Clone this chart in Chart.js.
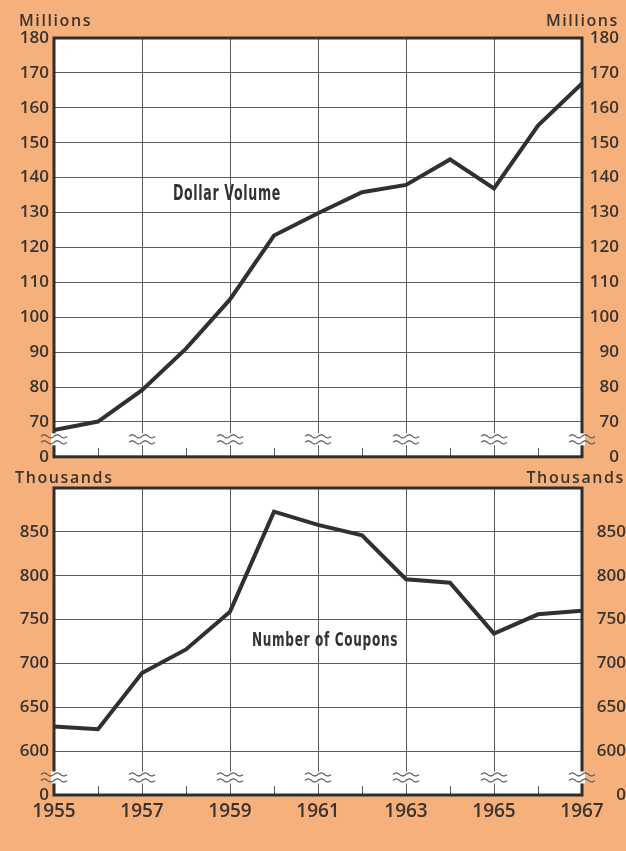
<!DOCTYPE html>
<html>
<head>
<meta charset="utf-8">
<script src="https://cdn.jsdelivr.net/npm/chart.js@4/dist/chart.umd.min.js"></script>
<style>
  html, body { margin: 0; padding: 0; background: #F5B07B; }
  body { width: 626px; height: 851px; position: relative; overflow: hidden; }
  canvas { position: absolute; left: 0; }
  #c1 { top: 0; }
  #c2 { top: 462px; }
</style>
</head>
<body>
<canvas id="c1" width="626" height="472"></canvas>
<canvas id="c2" width="626" height="389"></canvas>
<script>
// ---------- DATA ----------
const years = [1955, 1956, 1957, 1958, 1959, 1960, 1961, 1962, 1963, 1964, 1965, 1966, 1967];
const yearLabels = ['1955', '', '1957', '', '1959', '', '1961', '', '1963', '', '1965', '', '1967'];

// Dollar volume, millions of dollars
const dollarVolume = [67.7, 70.1, 79.1, 91.0, 105.1, 123.4, 129.8, 135.8, 137.9, 145.2, 136.9, 154.9, 167.0];
// Number of coupons, thousands
const coupons = [628, 625, 689, 716, 759, 873, 858, 846, 796, 792, 734, 756, 760];

// Broken axes: lowest tick stands for zero
const topTickValues = [60, 70, 80, 90, 100, 110, 120, 130, 140, 150, 160, 170, 180];
const topTickLabels = ['0', '70', '80', '90', '100', '110', '120', '130', '140', '150', '160', '170', '180'];
const bottomTickValues = [550, 600, 650, 700, 750, 800, 850];
const bottomTickLabels = ['0', '600', '650', '700', '750', '800', '850'];

// ---------- STYLE ----------
const INK = '#3a3430';
const GRID = '#5c5c5c';
const FRAME = '#2e2e2e';
const LINE = '#303030';
const TICK_FONT = 'Open Sans';

const panelPlugin = {
  id: 'panel',
  beforeDraw(chart) {
    const { ctx, chartArea: a } = chart;
    ctx.save();
    ctx.fillStyle = '#ffffff';
    ctx.fillRect(a.left, a.top, a.right - a.left, a.bottom - a.top);
    ctx.restore();
  },
  beforeDatasetsDraw(chart) {
    const { ctx, chartArea: a, scales } = chart;
    ctx.save();
    // even-year inside ticks
    ctx.strokeStyle = GRID;
    ctx.lineWidth = 1;
    years.forEach(y => {
      if (y % 2 === 0) {
        const x = Math.round(scales.x.getPixelForValue(y)) + 0.5;
        ctx.beginPath();
        ctx.moveTo(x, a.bottom);
        ctx.lineTo(x, a.bottom - 9);
        ctx.stroke();
      }
    });
    // frame
    ctx.strokeStyle = FRAME;
    ctx.lineWidth = 3;
    ctx.strokeRect(a.left, a.top, a.right - a.left, a.bottom - a.top);
    ctx.restore();
  },
  afterDatasetsDraw(chart, args, opts) {
    const { ctx, chartArea: a, scales } = chart;
    ctx.save();
    // axis break squiggles
    const cy = scales.y.getPixelForValue(opts.breakValue);
    years.forEach(y => {
      if (y % 2 === 1) {
        const cx = scales.x.getPixelForValue(y);
        ctx.fillStyle = '#ffffff';
        ctx.fillRect(cx - 3, cy - 6, 6, 12);
        ctx.strokeStyle = '#5a5a5a';
        ctx.lineWidth = 1.2;
        [-3, 3].forEach(off => {
          ctx.beginPath();
          for (let t = -13; t <= 13; t += 0.5) {
            const yy = cy + off - 1.5 * Math.sin((t + 13) / 13 * 2 * Math.PI);
            if (t === -13) ctx.moveTo(cx + t, yy); else ctx.lineTo(cx + t, yy);
          }
          ctx.stroke();
        });
      }
    });
    // series annotation
    ctx.fillStyle = '#333333';
    ctx.font = 'bold ' + opts.labelSize + 'px "Liberation Sans Narrow", "DejaVu Sans Condensed", "Liberation Sans", sans-serif';
    ctx.letterSpacing = '1px';
    ctx.textAlign = 'center';
    ctx.textBaseline = 'middle';
    ctx.fillText(opts.label, scales.x.getPixelForValue(opts.labelX), scales.y.getPixelForValue(opts.labelY), opts.labelWidth);
    // unit labels
    ctx.fillStyle = INK;
    ctx.font = '600 16px "' + TICK_FONT + '"';
    ctx.letterSpacing = opts.unitSpacing + 'px';
    ctx.textBaseline = 'alphabetic';
    ctx.textAlign = 'left';
    ctx.fillText(opts.units, opts.unitLeftX, opts.unitY);
    ctx.textAlign = 'right';
    ctx.fillText(opts.units, opts.unitRightX, opts.unitY);
    ctx.restore();
  }
};

function makeChart(id, values, tickValues, tickLabels, cfg) {
  const tickMap = {};
  tickValues.forEach((v, i) => { tickMap[v] = tickLabels[i]; });
  const yAxis = (pos) => ({
    type: 'linear',
    position: pos,
    min: cfg.min,
    max: cfg.max,
    afterBuildTicks: s => { s.ticks = tickValues.map(v => ({ value: v })); },
    afterFit: s => { s.width = pos === 'left' ? 54 : cfg.rightWidth; },
    border: { display: false },
    grid: {
      display: pos === 'left',
      drawTicks: false,
      color: c => (c.tick && (c.tick.value === cfg.min || c.tick.value === cfg.max)) ? 'rgba(0,0,0,0)' : GRID,
      lineWidth: 1
    },
    ticks: {
      padding: 5,
      crossAlign: pos === 'left' ? 'near' : 'far',
      color: INK,
      font: { family: TICK_FONT, size: 17, weight: '600' },
      callback: v => tickMap[v] !== undefined ? tickMap[v] : ''
    }
  });
  return new Chart(document.getElementById(id), {
    type: 'line',
    data: {
      datasets: [{
        data: years.map((y, i) => ({ x: y, y: values[i] })),
        borderColor: LINE,
        borderWidth: 4,
        pointRadius: 0,
        tension: 0,
        borderJoinStyle: 'miter',
        borderCapStyle: 'butt'
      }]
    },
    options: {
      responsive: false,
      animation: false,
      events: [],
      layout: { padding: cfg.padding },
      plugins: {
        legend: { display: false },
        tooltip: { enabled: false },
        panel: cfg.panel
      },
      scales: {
        x: {
          type: 'linear',
          min: 1955,
          max: 1967,
          afterBuildTicks: s => { s.ticks = years.map(v => ({ value: v })); },
          afterFit: s => { s.height = cfg.xHeight; },
          border: { display: false },
          grid: {
            drawTicks: false,
            color: c => (c.tick && c.tick.value % 2 === 1 && c.tick.value !== 1955 && c.tick.value !== 1967) ? GRID : 'rgba(0,0,0,0)',
            lineWidth: 1
          },
          ticks: {
            display: cfg.xLabels,
            autoSkip: false,
            maxRotation: 0,
            padding: 5,
            color: INK,
            font: { family: TICK_FONT, size: 19, weight: '600' },
            callback: (v) => { const i = years.indexOf(v); return i >= 0 ? yearLabels[i] : ''; }
          }
        },
        y: yAxis('left'),
        y2: yAxis('right')
      }
    },
    plugins: [panelPlugin]
  });
}

makeChart('c1', dollarVolume, topTickValues, topTickLabels, {
  min: 60, max: 180, rightWidth: 37,
  padding: { top: 38, right: 7, bottom: 0, left: 0 },
  xHeight: 12, xLabels: false,
  panel: {
    breakValue: 65, label: 'Dollar Volume', labelX: 1958.93, labelY: 135.3, labelSize: 22, labelWidth: 108,
    units: 'Millions', unitLeftX: 19, unitRightX: 619, unitY: 26, unitSpacing: 1.6
  }
});

makeChart('c2', coupons, bottomTickValues, bottomTickLabels, {
  min: 550, max: 900, rightWidth: 44,
  padding: { top: 26, right: 0, bottom: 0, left: 0 },
  xHeight: 56, xLabels: true,
  panel: {
    breakValue: 570, label: 'Number of Coupons', labelX: 1961.16, labelY: 726, labelSize: 20, labelWidth: 146,
    units: 'Thousands', unitLeftX: 15, unitRightX: 625, unitY: 21, unitSpacing: 1.6
  }
});
</script>
</body>
</html>
